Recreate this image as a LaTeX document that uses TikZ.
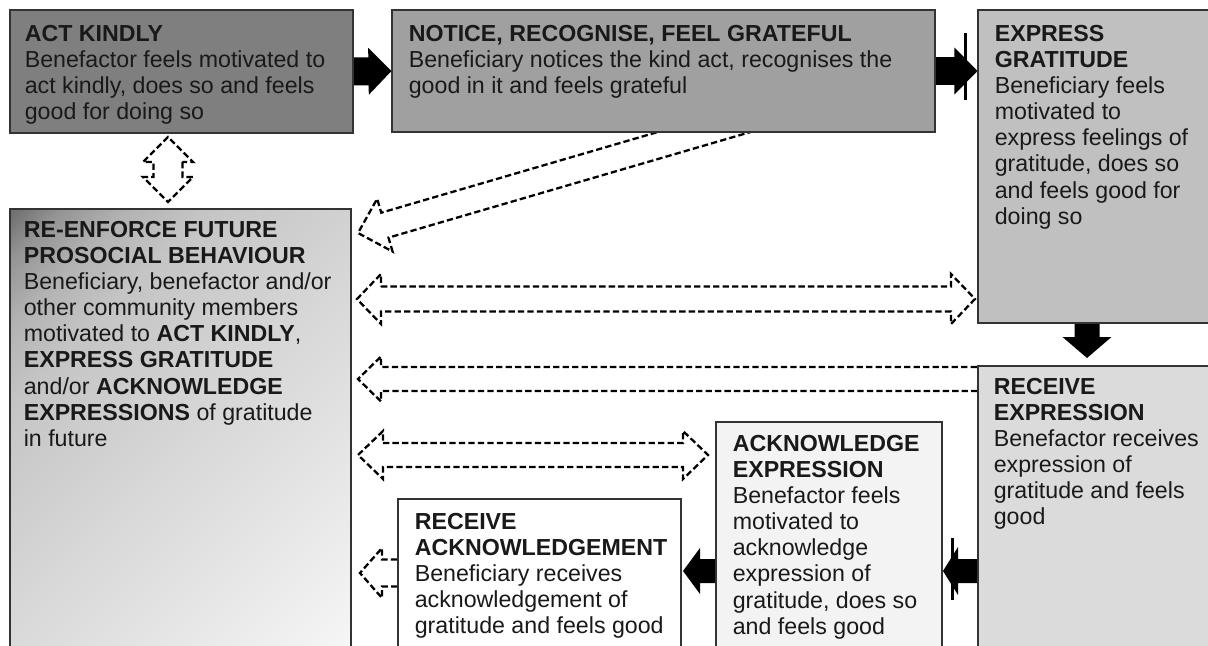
\documentclass[tikz,border=0pt]{standalone}
\usepackage{fontspec}
\setmainfont{Liberation Sans}
\usetikzlibrary{calc,fit,backgrounds}

\definecolor{actfill}{HTML}{7F7F7F}
\definecolor{noticefill}{HTML}{A0A0A0}
\definecolor{expressfill}{HTML}{C0C0C0}
\definecolor{recexpfill}{HTML}{DCDBDC}
\definecolor{ackexpfill}{HTML}{F3F3F3}
\pgfdeclarehorizontalshading{reinshade}{100bp}{color(0bp)=(black!56); color(15bp)=(black!56);
  color(19bp)=(black!42); color(25bp)=(black!30); color(32bp)=(black!23);
  color(50bp)=(black!16); color(86bp)=(black!3); color(100bp)=(black!3)}

% block arrow: style, tail, tip, half shaft, half head, head length
\newcommand{\blockarrow}[6][]{%
  \coordinate (ba-b) at ($(#3)!#6!(#2)$);
  \path[#1] ($(#2)!#4!90:(#3)$) -- ($(ba-b)!#4!90:(#3)$) -- ($(ba-b)!#5!90:(#3)$) -- (#3)
    -- ($(ba-b)!#5!-90:(#3)$) -- ($(ba-b)!#4!-90:(#3)$) -- ($(#2)!#4!-90:(#3)$);
}
% two headed block arrow: style, tip a, tip b, half shaft, half head, head length
\newcommand{\doubleblockarrow}[6][]{%
  \coordinate (da-a) at ($(#2)!#6!(#3)$);
  \coordinate (da-b) at ($(#3)!#6!(#2)$);
  \path[#1] ($(da-a)!#4!90:(#3)$) -- ($(da-b)!#4!90:(#3)$) -- ($(da-b)!#5!90:(#3)$) -- (#3)
    -- ($(da-b)!#5!-90:(#3)$) -- ($(da-b)!#4!-90:(#3)$) -- ($(da-a)!#4!-90:(#3)$)
    -- ($(da-a)!#5!-90:(#3)$) -- (#2) -- ($(da-a)!#5!90:(#3)$) -- cycle;
}

\begin{document}
\begin{tikzpicture}[x=0.02cm, y=-0.02cm,
    stagebox/.style={draw=black!80, line width=0.6pt, inner sep=0pt},
    stagetext/.style={anchor=north west, inner sep=0pt, align=left, text=black!90,
      font=\fontsize{13.2}{14.9}\selectfont},
    solidarrow/.style={fill=black},
    hollowarrow/.style={draw=black, line width=1.3pt, dash pattern=on 3.6pt off 1.8pt}]

    \useasboundingbox (0,0) rectangle (1208,646);
    \clip (0,0) rectangle (1208,646);

    % Stages
    \node[stagebox, fill=actfill, fit={(10,10) (353,133)}] (act) {};
    \node[stagebox, fill=noticefill, fit={(392,10) (935,132)}] (notice) {};
    \node[stagebox, fill=expressfill, fit={(978,10) (1230,323)}] (express) {};
    \node[stagebox, shading=reinshade, shading angle=-45, fit={(10,209) (351,660)}] (reinforce) {};
    \node[stagebox, fill=recexpfill, fit={(978,366) (1230,660)}] (recexp) {};
    \node[stagebox, fill=ackexpfill, fit={(716,422) (942,660)}] (ackexp) {};
    \node[stagebox, fill=white, fit={(398,499) (681,660)}] (recack) {};

    % Texts
    \node[stagetext] (act-t) at ([shift={(15,15)}]act.north west)
      {\textbf{ACT KINDLY}\\Benefactor feels motivated to\\act kindly, does so and feels\\good for doing so};
    \node[stagetext] (notice-t) at ([shift={(17,15)}]notice.north west)
      {\textbf{NOTICE, RECOGNISE, FEEL GRATEFUL}\\Beneficiary notices the kind act, recognises the\\good in it and feels grateful};
    \node[stagetext] (express-t) at ([shift={(17,15)}]express.north west)
      {\textbf{EXPRESS}\\\textbf{GRATITUDE}\\Beneficiary feels\\motivated to\\express feelings of\\gratitude, does so\\and feels good for\\doing so};
    \node[stagetext] (reinforce-t) at ([shift={(14,12)}]reinforce.north west)
      {\textbf{RE-ENFORCE FUTURE}\\\textbf{PROSOCIAL BEHAVIOUR}\\Beneficiary, benefactor and/or\\other community members\\motivated to \textbf{ACT KINDLY},\\\textbf{EXPRESS GRATITUDE}\\and/or \textbf{ACKNOWLEDGE}\\\textbf{EXPRESSIONS} of gratitude\\in future};
    \node[stagetext] (recexp-t) at ([shift={(16,12)}]recexp.north west)
      {\textbf{RECEIVE}\\\textbf{EXPRESSION}\\Benefactor receives\\expression of\\gratitude and feels\\good};
    \node[stagetext] (ackexp-t) at ([shift={(17,13)}]ackexp.north west)
      {\textbf{ACKNOWLEDGE}\\\textbf{EXPRESSION}\\Benefactor feels\\motivated to\\acknowledge\\expression of\\gratitude, does so\\and feels good};
    \node[stagetext] (recack-t) at ([shift={(17,14)}]recack.north west)
      {\textbf{RECEIVE}\\\textbf{ACKNOWLEDGEMENT}\\Beneficiary receives\\acknowledgement of\\gratitude and feels good};

    % Free ends
    \coordinate (vtop) at (168,137);
    \coordinate (vbot) at (168,202);
    \coordinate (slanttail) at (759,116);
    \coordinate (slanttip) at (358,233);
    \coordinate (loopa-l) at (357,299);
    \coordinate (loopa-r) at (975,299);
    \coordinate (recexp-tip) at (358,379);
    \coordinate (loopb-l) at (358,455);
    \coordinate (loopb-r) at (708,455);
    \coordinate (recack-tip) at (360,573);
    \coordinate (downtip) at (1087,358);
    \coordinate (dtip) at (943,571);
    \coordinate (etip) at (683,571);

    \begin{scope}[on background layer]
      % Solid arrows
      \blockarrow[solidarrow]{act.east}{notice.west}{0.28cm}{0.47cm}{0.46cm}
      \blockarrow[solidarrow]{notice.east}{notice.east -| express.west}{0.28cm}{0.47cm}{0.46cm}
      \blockarrow[solidarrow]{downtip |- express.south}{downtip}{0.25cm}{0.49cm}{0.42cm}
      \blockarrow[solidarrow]{recexp.west |- dtip}{dtip}{0.24cm}{0.48cm}{0.3cm}
      \blockarrow[solidarrow]{ackexp.west |- etip}{etip}{0.24cm}{0.46cm}{0.34cm}
      % Dashed arrows
      \doubleblockarrow[hollowarrow]{vtop}{vbot}{0.29cm}{0.5cm}{0.5cm}
      \blockarrow[hollowarrow]{slanttail}{slanttip}{0.26cm}{0.55cm}{0.56cm}
      \doubleblockarrow[hollowarrow]{loopa-l}{loopa-r}{0.25cm}{0.5cm}{0.48cm}
      \blockarrow[hollowarrow]{recexp.west |- recexp-tip}{recexp-tip}{0.24cm}{0.45cm}{0.46cm}
      \doubleblockarrow[hollowarrow]{loopb-l}{loopb-r}{0.24cm}{0.48cm}{0.5cm}
      \blockarrow[hollowarrow]{recack.west |- recack-tip}{recack-tip}{0.27cm}{0.5cm}{0.44cm}
    \end{scope}

    % Bars on arrows
    \draw[line width=0.06cm] (965,33) -- (965,100);
    \draw[line width=0.06cm] (952,538) -- (952,600);
\end{tikzpicture}
\end{document}
